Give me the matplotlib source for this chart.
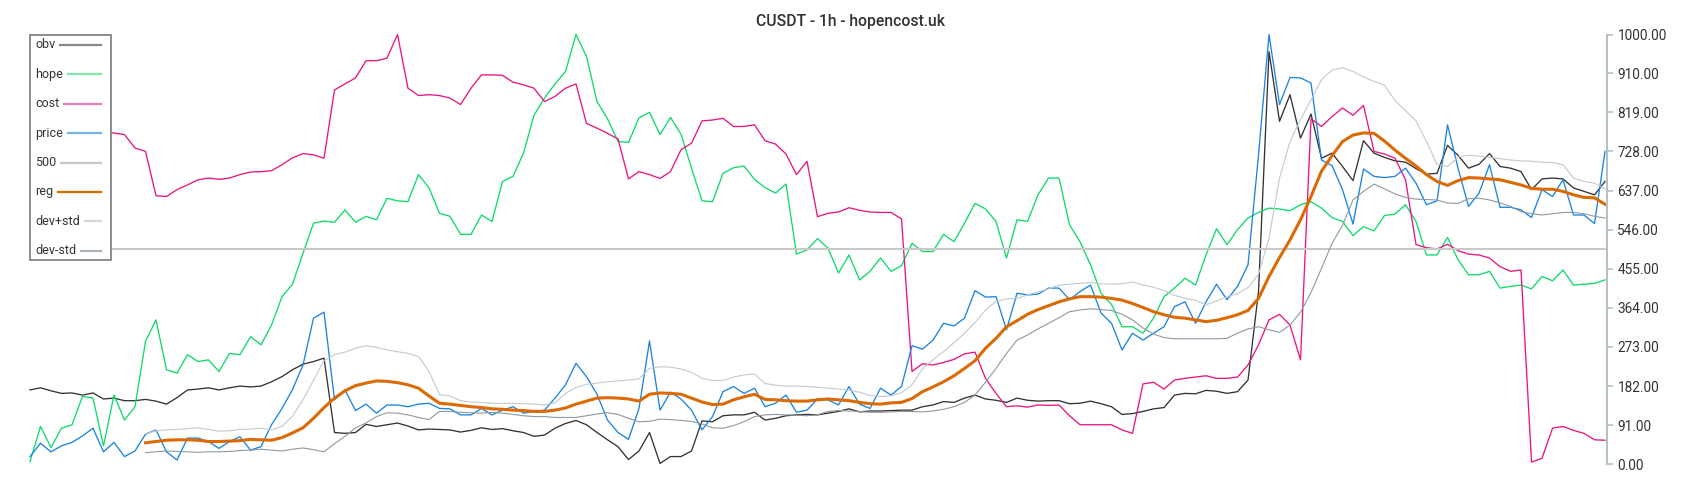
import matplotlib
matplotlib.use("Agg")
import matplotlib.pyplot as plt
import numpy as np
from matplotlib.patches import Rectangle
from matplotlib.lines import Line2D
from matplotlib.transforms import Affine2D

plt.rcParams["font.family"] = ["Roboto", "DejaVu Sans"]

title = "CUSDT - 1h - hopencost.uk"
y_ticks = [0, 91, 182, 273, 364, 455, 546, 637, 728, 819, 910, 1000]
limit = 500
band_start = 11  # reg and the std bands start after a warm-up window

obv = [173, 178, 171, 165, 166, 161, 166, 152, 154, 148,
       148, 151, 147, 140, 155, 173, 175, 178, 173, 178,
       182, 180, 182, 192, 204, 220, 233, 239, 247, 74,
       72, 74, 93, 88, 92, 96, 89, 80, 82, 81,
       80, 75, 79, 85, 81, 83, 78, 74, 65, 68,
       84, 95, 102, 92, 74, 57, 41, 11, 31, 74,
       2, 18, 18, 31, 101, 99, 113, 115, 115, 121,
       103, 107, 113, 115, 116, 115, 119, 123, 129, 122,
       124, 124, 125, 126, 126, 134, 138, 146, 144, 154,
       161, 152, 149, 144, 154, 149, 147, 148, 148, 141,
       142, 147, 141, 134, 116, 118, 123, 129, 132, 161,
       165, 164, 172, 170, 165, 169, 196, 402, 960, 798,
       860, 759, 815, 712, 724, 693, 660, 753, 724, 714,
       706, 703, 688, 675, 677, 742, 719, 689, 698, 723,
       693, 689, 681, 639, 664, 666, 664, 643, 635, 627, 658]

hope = [6, 88, 39, 84, 92, 158, 154, 43, 161, 103,
        134, 286, 336, 220, 212, 255, 239, 243, 216, 258,
        255, 297, 278, 324, 390, 419, 491, 561, 566, 563,
        592, 563, 577, 569, 619, 613, 611, 674, 643, 584,
        577, 535, 535, 580, 565, 658, 670, 724, 812, 852,
        885, 914, 1000, 949, 844, 804, 751, 749, 806, 819,
        767, 807, 768, 689, 613, 611, 677, 690, 694, 663,
        644, 631, 652, 489, 499, 525, 503, 445, 487, 429,
        449, 480, 449, 462, 514, 495, 495, 535, 518, 561,
        607, 594, 565, 480, 569, 565, 627, 666, 666, 557,
        518, 464, 398, 372, 320, 320, 305, 340, 390, 410,
        433, 417, 487, 548, 511, 546, 573, 586, 596, 594,
        590, 604, 611, 596, 574, 565, 532, 553, 543, 579,
        582, 604, 565, 487, 487, 528, 476, 441, 441, 449,
        410, 414, 417, 408, 437, 427, 452, 417, 419, 421, 429]

cost = [768, 770, 772, 770, 771, 773, 772, 770, 771, 767,
        736, 728, 625, 623, 639, 650, 662, 666, 663, 666,
        674, 680, 681, 683, 697, 713, 723, 720, 712, 871,
        885, 899, 939, 939, 945, 1000, 875, 858, 860, 858,
        852, 837, 875, 906, 906, 905, 889, 883, 875, 844,
        856, 875, 885, 793, 782, 770, 757, 664, 681, 674,
        665, 681, 732, 747, 799, 801, 805, 786, 786, 790,
        753, 745, 722, 674, 705, 576, 584, 587, 597, 591,
        587, 586, 586, 571, 216, 234, 231, 237, 244, 257,
        261, 200, 165, 134, 136, 133, 138, 137, 138, 113,
        92, 92, 92, 92, 80, 72, 187, 191, 175, 196,
        200, 203, 206, 200, 200, 203, 231, 278, 336, 349,
        324, 243, 804, 786, 809, 829, 812, 835, 728, 722,
        712, 662, 511, 504, 501, 512, 497, 489, 487, 480,
        460, 449, 452, 5, 14, 84, 88, 79, 72, 57, 56]

price = [18, 49, 29, 43, 51, 66, 84, 29, 51, 18,
         31, 70, 80, 29, 10, 61, 61, 53, 37, 53,
         64, 33, 41, 92, 130, 174, 231, 340, 354, 150,
         173, 125, 140, 119, 138, 138, 134, 140, 142, 130,
         129, 115, 115, 130, 115, 126, 134, 119, 123, 126,
         154, 185, 235, 204, 163, 103, 74, 58, 130, 287,
         126, 168, 152, 126, 80, 111, 169, 181, 165, 177,
         134, 142, 161, 121, 126, 152, 150, 138, 181, 140,
         130, 177, 161, 181, 276, 268, 289, 328, 322, 340,
         404, 389, 390, 313, 398, 394, 396, 410, 410, 383,
         402, 417, 352, 328, 266, 305, 289, 305, 320, 367,
         378, 328, 378, 419, 383, 414, 464, 720, 1000, 837,
         900, 899, 887, 708, 695, 639, 559, 687, 670, 667,
         670, 689, 654, 604, 613, 790, 689, 600, 631, 697,
         598, 598, 592, 574, 639, 623, 662, 580, 580, 560, 728]

reg = [50, 53, 56, 57, 57, 56, 53, 53, 54,
       55, 58, 57, 56, 62, 73, 85, 107, 132, 154,
       171, 183, 189, 194, 193, 190, 185, 177, 159, 142,
       140, 137, 134, 132, 129, 128, 126, 125, 123, 123,
       126, 131, 140, 147, 154, 155, 154, 152, 147, 163,
       166, 165, 163, 154, 145, 139, 140, 150, 157, 163,
       151, 150, 148, 147, 147, 150, 152, 150, 148, 144,
       141, 140, 143, 144, 153, 169, 180, 192, 206, 223,
       241, 270, 293, 320, 334, 349, 360, 369, 378, 385,
       390, 390, 389, 386, 382, 374, 365, 355, 348, 342,
       340, 336, 332, 335, 341, 348, 358, 386, 437, 481,
       522, 569, 623, 682, 718, 751, 766, 771, 770, 752,
       731, 712, 694, 674, 658, 649, 660, 667, 666, 664,
       662, 656, 650, 642, 640, 640, 635, 627, 621, 620, 605]

dev_plus = [71, 78, 80, 81, 83, 85, 81, 77, 78,
            81, 82, 84, 80, 88, 112, 150, 196, 241, 255,
            261, 270, 276, 272, 266, 262, 258, 251, 216, 162,
            159, 148, 145, 144, 142, 142, 142, 141, 140, 138,
            143, 165, 179, 186, 189, 192, 194, 196, 199, 223,
            227, 226, 222, 214, 200, 195, 195, 203, 208, 210,
            188, 184, 182, 182, 181, 179, 177, 175, 172, 168,
            160, 158, 159, 167, 185, 222, 243, 262, 283, 305,
            330, 359, 379, 385, 386, 394, 401, 408, 417, 419,
            421, 423, 420, 419, 420, 424, 417, 412, 404, 393,
            386, 382, 371, 380, 390, 397, 411, 442, 526, 666,
            751, 802, 848, 895, 917, 923, 914, 901, 891, 882,
            846, 823, 799, 751, 698, 693, 715, 719, 717, 714,
            711, 708, 706, 705, 703, 702, 697, 666, 658, 654, 641]

dev_minus = [27, 29, 31, 30, 29, 28, 29, 29, 30,
             32, 33, 35, 33, 31, 35, 38, 34, 29, 48,
             65, 85, 96, 111, 120, 119, 115, 109, 104, 123,
             123, 121, 120, 119, 121, 119, 116, 113, 111, 111,
             109, 109, 109, 113, 117, 120, 116, 107, 99, 100,
             105, 104, 102, 100, 94, 85, 84, 90, 99, 111,
             115, 116, 115, 114, 113, 115, 123, 125, 124, 123,
             121, 121, 122, 123, 123, 122, 124, 128, 134, 144,
             161, 191, 223, 258, 289, 301, 315, 328, 341, 355,
             359, 362, 360, 358, 349, 336, 317, 303, 295, 292,
             292, 292, 292, 292, 293, 305, 315, 320, 313, 307,
             324, 354, 400, 456, 514, 556, 615, 635, 652, 641,
             629, 621, 617, 616, 615, 608, 607, 618, 619, 615,
             608, 600, 588, 583, 580, 583, 586, 586, 583, 577, 573]

W, H = 1700, 500
fig = plt.figure(figsize=(W / 100, H / 100), dpi=100)
ax = fig.add_axes([30 / W, 1 - 464.3 / H, 1576.7 / W, (464.3 - 34.5) / H])

x = np.arange(len(obv))
xb = np.arange(band_start, band_start + len(reg))

ax.plot(x, obv, color="#333333", lw=0.95, clip_on=False)
ax.plot(x, hope, color="#10d96c", lw=0.95, clip_on=False)
ax.plot(x, cost, color="#e8177f", lw=0.95, clip_on=False)
ax.plot(x, price, color="#1b84e3", lw=0.95, clip_on=False)
ax.axhline(limit, color="#c8c8c8", lw=1.5)
ax.plot(xb, reg, color="#dc6a04", lw=2.2)
ax.plot(xb, dev_plus, color="#c3c9ce", lw=0.8)
ax.plot(xb, dev_minus, color="#8d99a3", lw=0.8)

ax.set_xlim(0, 150.16)
ax.set_ylim(0, 1000)
ax.set_xticks([])
ax.yaxis.tick_right()
ax.set_yticks(y_ticks)
ax.set_yticklabels([f"{v:.2f}" for v in y_ticks])
ax.tick_params(axis="y", colors="#b5bfc6", labelcolor="#333333", labelsize=9.8,
               length=4.1, width=1.2, pad=3.6)
for side in ("left", "top", "bottom"):
    ax.spines[side].set_visible(False)
ax.spines["right"].set_color("#b5bfc6")
ax.spines["right"].set_linewidth(1.5)

fig.text(0.5, 1 - 26 / H, title, ha="center", va="baseline",
         fontsize=11.3, color="#333333", fontweight="medium")

# hand-made legend: label on the left, short line running to the right edge
px = Affine2D().scale(1, -1).translate(0, H)
fig.add_artist(Rectangle((30, 34.5), 81, 225.5, transform=px, facecolor="white",
                         edgecolor="#7a7a7a", lw=1.2, zorder=5))
labels = ["obv", "hope", "cost", "price", "500", "reg", "dev+std", "dev-std"]
handle_colors = ["#8a8a8a", "#7ee8a8", "#ef7bbd", "#74b3ec",
                 "#c8c8c8", "#d96a00", "#d3d7db", "#a9b3bb"]
renderer = fig.canvas.get_renderer()
for i, (lab, col) in enumerate(zip(labels, handle_colors)):
    yy = 45 + 29.4 * i
    t = fig.text(35, yy, lab, transform=px, ha="left", va="center",
                 fontsize=9, color="#333333", zorder=6)
    x1 = t.get_window_extent(renderer=renderer).x1
    fig.add_artist(Line2D([x1 + 5, 101], [yy, yy], transform=px, color=col,
                          lw=1.6, zorder=6))

fig.savefig("out.png", dpi=100)
